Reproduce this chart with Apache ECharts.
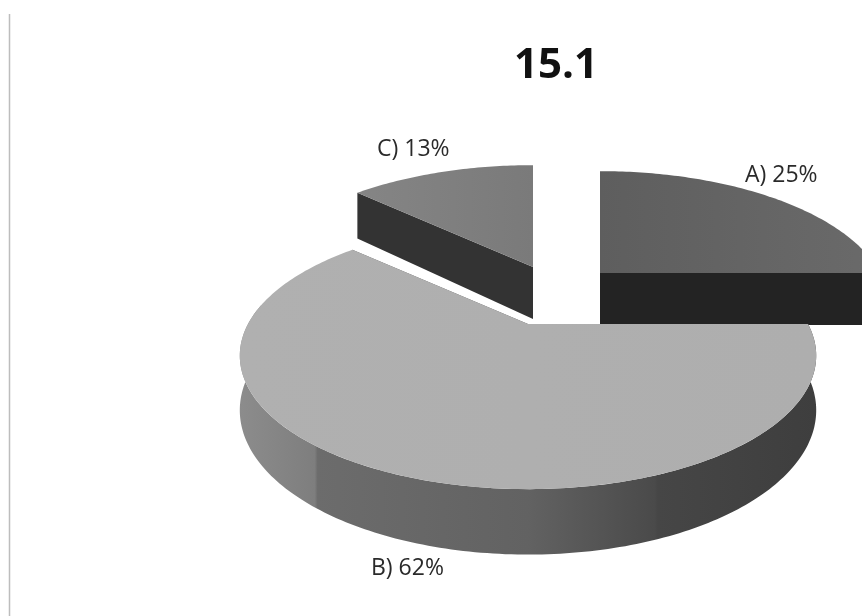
<!DOCTYPE html>
<html><head><meta charset="utf-8">
<style>html,body{margin:0;padding:0;background:#fff}#c{width:862px;height:616px}</style>
<script src="https://cdn.jsdelivr.net/npm/echarts@6/dist/echarts.min.js"></script>
</head><body><div id="c"></div>
<script>
const titleText = '15.1';
const categories = ['A)', 'B)', 'C)'];
const values = [25, 62, 13];

// styling / layout, kept apart from the data
const drawOrder = [0, 2, 1];
const apex = [[600, 273], [528, 324], [533, 267]];
const topColors = [
  ['#5e5e5e', '#6a6a6a'],
  ['#b0b0b0', '#aeaeae'],
  ['#858585', '#7a7a7a']
];
const wallColors = ['#232323', '#555555', '#333333'];
const labelPos = [[745, 175], [371, 568], [377, 149]];
const R = 280, H = 126, K = 0.237, DEPTH = 52;

const total = values.reduce((a, b) => a + b, 0);
const starts = [];
values.reduce((acc, v, i) => { starts[i] = acc; return acc + v; }, 0);
const toAngle = v => v / total * Math.PI * 2;

function project(a, t, r, down) {
  const c = Math.cos(t), s = Math.sin(t), p = 1 / (1 + K * c * r);
  return [a[0] + R * r * s * p, a[1] - H * r * c * p + (down ? DEPTH * Math.pow(p, 0.85) : 0)];
}
function arc(a, t0, t1, down) {
  const n = Math.max(2, Math.ceil(Math.abs(t1 - t0) * 60)), out = [];
  for (let i = 0; i <= n; i++) out.push(project(a, t0 + (t1 - t0) * i / n, 1, down));
  return out;
}
function radialWall(a, t, fill) {
  const rim = project(a, t, 1, false), rimD = project(a, t, 1, true);
  const apexD = [a[0], a[1] + DEPTH];
  return { type: 'polygon', shape: { points: [a, rim, rimD, apexD] }, style: { fill } };
}
function renderItem(params, api) {
  const idx = api.value(0);
  const val = api.value(1);
  const t0 = toAngle(starts[idx]), t1 = toAngle(starts[idx] + val);
  const a = apex[idx], children = [];
  children.push(radialWall(a, t0, wallColors[idx]));
  children.push(radialWall(a, t1, wallColors[idx]));
  const lo = Math.max(t0, Math.PI * 0.45), hi = Math.min(t1, Math.PI * 1.55);
  if (hi > lo) {
    const fill = idx === 1
      ? new echarts.graphic.LinearGradient(0, 0, 1, 0, [
          { offset: 0, color: '#8c8c8c' },
          { offset: 0.13, color: '#7e7e7e' },
          { offset: 0.135, color: '#6c6c6c' },
          { offset: 0.5, color: '#626262' },
          { offset: 0.72, color: '#4a4a4a' },
          { offset: 0.725, color: '#464646' },
          { offset: 1, color: '#3e3e3e' }
        ])
      : wallColors[idx];
    children.push({
      type: 'polygon',
      shape: { points: arc(a, lo, hi, false).concat(arc(a, hi, lo, true)) },
      style: { fill }
    });
  }
  children.push({
    type: 'polygon',
    shape: { points: [a].concat(arc(a, t0, t1, false)) },
    style: { fill: new echarts.graphic.LinearGradient(0, 0, 1, 0, [
      { offset: 0, color: topColors[idx][0] },
      { offset: 1, color: topColors[idx][1] }
    ]) }
  });
  children.push({
    type: 'text',
    style: {
      x: labelPos[idx][0], y: labelPos[idx][1],
      text: categories[idx] + ' ' + val + '%',
      fill: '#2a2a2a', font: '23px "Open Sans", "Noto Sans", sans-serif',
      verticalAlign: 'middle'
    }
  });
  return { type: 'group', children };
}

const chart = echarts.init(document.getElementById('c'), null, { renderer: 'canvas' });
chart.setOption({
  animation: false,
  backgroundColor: '#ffffff',
  title: {
    text: titleText, left: 551, top: 40, textAlign: 'center',
    textStyle: { fontFamily: '"Open Sans", "Noto Sans", sans-serif', fontSize: 42, fontWeight: 'bold', color: '#111' }
  },
  graphic: [{
    type: 'line', silent: true,
    shape: { x1: 9.5, y1: 14, x2: 9.5, y2: 616 },
    style: { stroke: '#bdbdbd', lineWidth: 1.5 }
  }],
  series: [{
    type: 'custom',
    coordinateSystem: 'none',
    renderItem,
    data: drawOrder.map(i => [i, values[i]])
  }]
});
</script></body></html>
